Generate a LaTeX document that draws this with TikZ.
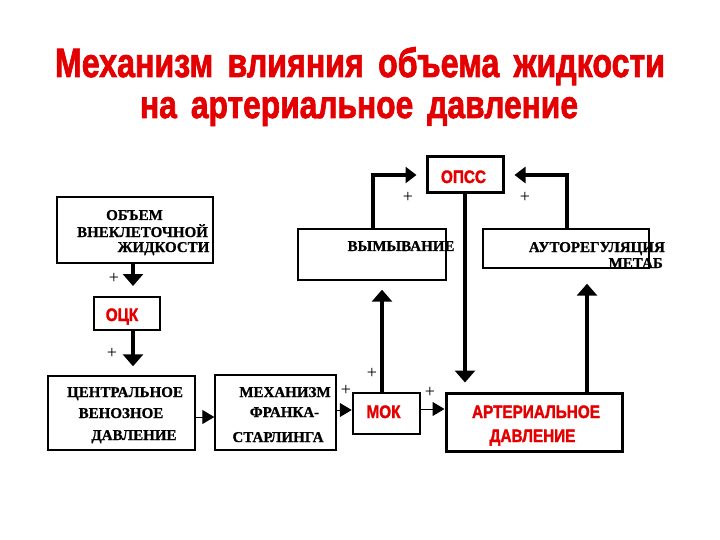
\documentclass[tikz,border=0pt]{standalone}
\usepackage{fontspec}
\usepackage{graphicx}
\usetikzlibrary{arrows.meta,calc}
\newfontfamily\sansf{Liberation Sans}[BoldFeatures={FakeBold=2}]
\newfontfamily\seriff{Liberation Serif}[BoldFeatures={FakeBold=1}]
\definecolor{tred}{RGB}{228,0,0}
\newcommand\redtxt[1]{\scalebox{0.85}[1]{\fontsize{18}{18}\selectfont\sansf\bfseries #1}}
\tikzset{
  box/.style={draw=black, line width=1.4pt, rectangle, inner sep=0pt},
  thickbox/.style={draw=black, line width=3pt, rectangle, inner sep=0pt},
  btxt/.style={anchor=base, inner sep=0pt, font=\fontsize{15}{15}\selectfont\seriff\bfseries},
  rtxt/.style={anchor=base, inner sep=0pt, text=tred},
  plus/.style={inner sep=0pt, font=\fontsize{18}{18}\selectfont\seriff},
  bigarr/.style={line width=4pt, -{Triangle[width=20pt,length=12pt]}},
  midarr/.style={line width=3.5pt, -{Triangle[width=16pt,length=11pt]}},
  thinarr/.style={line width=1pt, -{Triangle[width=14pt,length=12pt]}},
}
\begin{document}
\begin{tikzpicture}[x=1pt,y=-1pt]
\useasboundingbox (0,0) rectangle (720,540);
% title
\node[anchor=base, inner sep=0pt, text=tred] (t1) at (360,77)
  {\resizebox{610pt}{30pt}{\sansf\bfseries Механизм\, влияния\, объема\, жидкости}};
\node[anchor=base, inner sep=0pt, text=tred] (t2) at (359,118)
  {\resizebox{438pt}{21pt}{\sansf\bfseries на\, артериальное\, давление}};
% boxes
\node[box, minimum width=156pt, minimum height=66pt] (vol) at (135,230) {};
\node[box, line width=2pt, minimum width=66pt, minimum height=33pt] (ock) at (127,313.5) {};
\node[box, minimum width=147pt, minimum height=74pt] (cvd) at (121.5,413) {};
\node[box, minimum width=121pt, minimum height=75pt] (fs) at (275.5,412.5) {};
\node[box, line width=2.5pt, minimum width=67pt, minimum height=41pt] (mok) at (386.5,413.5) {};
\node[thickbox, minimum width=176pt, minimum height=58pt] (ad) at (534,422) {};
\node[box, minimum width=148pt, minimum height=51pt] (vym) at (372,254.5) {};
\node[box, minimum width=166pt, minimum height=39pt] (auto) at (566,248.5) {};
\node[thickbox, minimum width=76pt, minimum height=36pt] (opss) at (465,175) {};
% black texts
\node[btxt] (v1) at (134.5,220) {ОБЪЕМ};
\node[btxt] (v2) at (142.5,237) {ВНЕКЛЕТОЧНОЙ};
\node[btxt] (v3) at (163.5,252) {ЖИДКОСТИ};
\node[btxt] (c1) at (125,397) {ЦЕНТРАЛЬНОЕ};
\node[btxt] (c2) at (121,418) {ВЕНОЗНОЕ};
\node[btxt] (c3) at (134,440) {ДАВЛЕНИЕ};
\node[btxt] (f1) at (285,397) {МЕХАНИЗМ};
\node[btxt] (f2) at (284.5,417) {ФРАНКА-};
\node[btxt] (f3) at (278,442) {СТАРЛИНГА};
\node[btxt] (w1) at (401,251) {ВЫМЫВАНИЕ};
\node[btxt, anchor=base east] (a1) at (665,252) {АУТОРЕГУЛЯЦИЯ};
\node[btxt, anchor=base east] (a2) at (663,268) {МЕТАБ};
% red texts
\node[rtxt] (r1) at (122,321) {\redtxt{ОЦК}};
\node[rtxt] (r2) at (463.5,183) {\redtxt{ОПСС}};
\node[rtxt] (r3) at (383.5,418) {\redtxt{МОК}};
\node[rtxt] (r4) at (536,418) {\redtxt{АРТЕРИАЛЬНОЕ}};
\node[rtxt] (r5) at (532.5,442) {\redtxt{ДАВЛЕНИЕ}};
% plus signs
\node[plus] (p1) at (114,278) {+};
\node[plus] (p2) at (112,353) {+};
\node[plus] (p3) at (408,197) {+};
\node[plus] (p4) at (525,197) {+};
\node[plus] (p5) at (372,373) {+};
\node[plus] (p6) at (346,390) {+};
\node[plus] (p7) at (430,392) {+};
% connector x-guides
\coordinate (xa) at (133,0);
\coordinate (xm) at (382,0);
\coordinate (xo) at (465,0);
\coordinate (xd) at (587,0);
\coordinate (xv) at (373,0);
\coordinate (xu) at (567,0);
\coordinate (y1) at (0,417);
\coordinate (y2) at (0,410);
\coordinate (y3) at (0,409);
% connectors
\draw[bigarr, shorten >=10pt] (vol.south -| xa) -- (ock.north -| xa);
\draw[bigarr, shorten >=9pt] (ock.south -| xa) -- (cvd.north -| xa);
\draw[thinarr] (cvd.east |- y1) -- (fs.west |- y1);
\draw[thinarr] (fs.east |- y2) -- (mok.west |- y2);
\draw[thinarr] (mok.east |- y3) -- (ad.west |- y3);
\draw[bigarr, shorten >=9pt] (mok.north -| xm) -- (vym.south -| xm);
\draw[bigarr, shorten >=9pt] (opss.south -| xo) -- (ad.north -| xo);
\draw[bigarr, shorten >=15pt] (ad.north -| xd) -- (auto.south -| xd);
\draw[midarr, shorten >=9pt] (vym.north -| xv) |- (opss.west);
\draw[midarr, shorten >=10pt] (auto.north -| xu) |- (opss.east);
\end{tikzpicture}
\end{document}
